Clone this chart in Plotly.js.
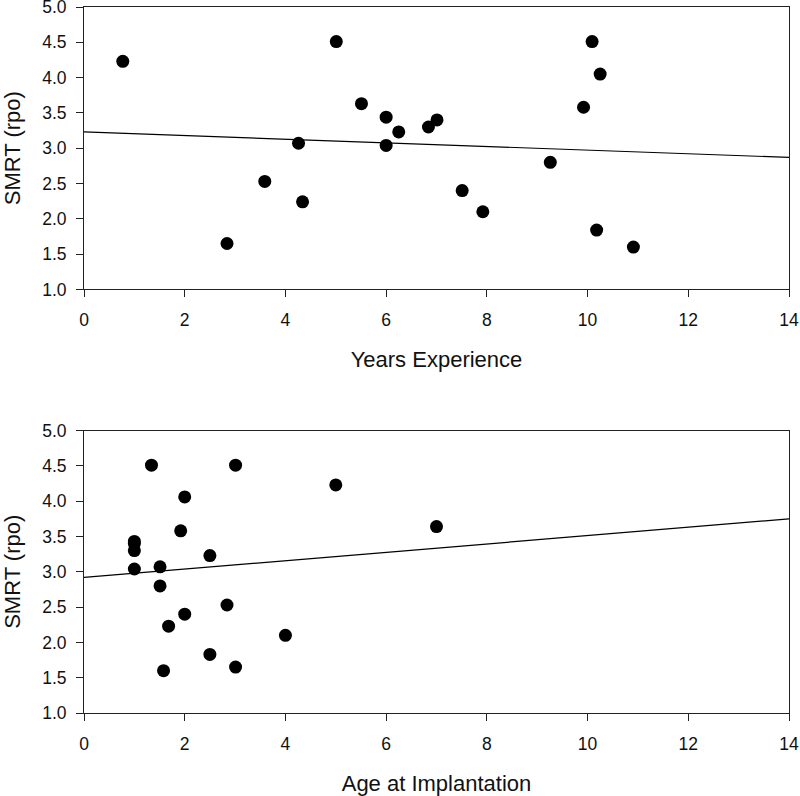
<!DOCTYPE html>
<html>
<head>
<meta charset="utf-8">
<script src="https://cdn.plot.ly/plotly-3.0.1.min.js"></script>
<style>html,body{margin:0;padding:0;background:#fff;}#chart{width:800px;height:796px;}</style>
</head>
<body>
<div id="chart"></div>
<script>
// Top panel: SMRT vs years of experience
const yearsExperience = [0.77, 2.84, 3.59, 4.26, 4.34, 5.01, 5.51, 6.0, 6.0, 6.25, 6.84, 7.01, 7.51, 7.92, 9.26, 9.92, 10.09, 10.25, 10.18, 10.91];
const smrtTop         = [4.23, 1.65, 2.53, 3.07, 2.24, 4.51, 3.63, 3.44, 3.04, 3.23, 3.30, 3.40, 2.40, 2.10, 2.80, 3.58, 4.51, 4.05, 1.84, 1.60];

// Bottom panel: SMRT vs age at implantation
const ageImplant      = [1.34, 3.01, 5.0, 2.0, 1.92, 1.0, 1.0, 1.0, 1.0, 2.5, 1.51, 1.51, 2.84, 2.0, 1.68, 4.0, 2.5, 3.01, 1.58, 7.0];
const smrtBottom      = [4.51, 4.51, 4.23, 4.06, 3.58, 3.43, 3.40, 3.30, 3.04, 3.23, 3.07, 2.80, 2.53, 2.40, 2.23, 2.10, 1.83, 1.65, 1.60, 3.64];

// Regression lines
const fitX      = [0, 14];
const fitTopY   = [3.23, 2.87];
const fitBotY   = [2.92, 3.75];

const yTickVals = [1.0, 1.5, 2.0, 2.5, 3.0, 3.5, 4.0, 4.5, 5.0];
const xTickVals = [0, 2, 4, 6, 8, 10, 12, 14];

const FONT = 'Liberation Sans, Arial, sans-serif';
const marker = {color: '#000', size: 13, symbol: 'circle'};
const lineStyle = {color: '#000', width: 1.2};

const traces = [
  {x: yearsExperience, y: smrtTop, mode: 'markers', type: 'scatter', marker: marker, xaxis: 'x', yaxis: 'y', hoverinfo: 'x+y'},
  {x: fitX, y: fitTopY, mode: 'lines', type: 'scatter', line: lineStyle, xaxis: 'x', yaxis: 'y'},
  {x: ageImplant, y: smrtBottom, mode: 'markers', type: 'scatter', marker: marker, xaxis: 'x2', yaxis: 'y2', hoverinfo: 'x+y'},
  {x: fitX, y: fitBotY, mode: 'lines', type: 'scatter', line: lineStyle, xaxis: 'x2', yaxis: 'y2'}
];

function xAxis(title, anchor) {
  return {
    range: [0, 14], tickvals: xTickVals, ticktext: xTickVals.map(String),
    showgrid: false, zeroline: false, showline: true, mirror: true,
    linecolor: '#222', linewidth: 1, ticks: 'outside', ticklen: 7, tickcolor: '#222', tickwidth: 1,
    tickfont: {family: FONT, size: 17.5, color: '#111'},
    ticklabelstandoff: 8, ticklabeloverflow: 'allow',
    title: {text: title, font: {family: FONT, size: 22, color: '#111'}, standoff: 22},
    anchor: anchor, automargin: false, fixedrange: true
  };
}
function yAxis(domain, anchor) {
  return {
    range: [1, 5], tickvals: yTickVals, ticktext: yTickVals.map(v => v.toFixed(1)),
    domain: domain,
    showgrid: false, zeroline: false, showline: true, mirror: true,
    linecolor: '#222', linewidth: 1, ticks: 'outside', ticklen: 7, tickcolor: '#222', tickwidth: 1,
    tickfont: {family: FONT, size: 17.5, color: '#111'},
    ticklabelstandoff: 6, ticklabeloverflow: 'allow',
    title: {text: 'SMRT (rpo)', font: {family: FONT, size: 22, color: '#111'}, standoff: 18},
    anchor: anchor, automargin: false, fixedrange: true
  };
}

const layout = {
  width: 800, height: 796,
  margin: {l: 83.5, r: 10.7, t: 7.3, b: 82.7},
  paper_bgcolor: '#fff', plot_bgcolor: '#fff',
  showlegend: false,
  xaxis: xAxis('Years Experience', 'y'),
  yaxis: yAxis([0.6, 1], 'x'),
  xaxis2: xAxis('Age at Implantation', 'y2'),
  yaxis2: yAxis([0, 0.4], 'x2')
};

Plotly.newPlot('chart', traces, layout, {displayModeBar: false, staticPlot: true});
</script>
</body>
</html>
